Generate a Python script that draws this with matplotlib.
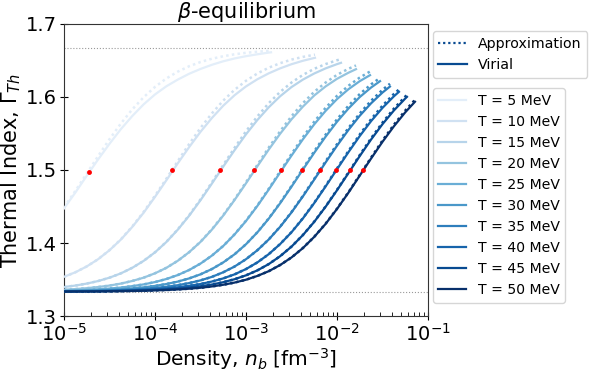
import matplotlib
matplotlib.use("Agg")
import matplotlib.pyplot as plt
import numpy as np
from matplotlib.lines import Line2D

# ---------------- data ----------------
temperatures = [5, 10, 15, 20, 25, 30, 35, 40, 45, 50]  # MeV

# shared density grid [fm^-3]
density_grid = [1.0e-5, 1.334e-5, 1.778e-5, 2.371e-5, 3.162e-5, 4.217e-5, 5.623e-5, 7.499e-5,
                1.0e-4, 1.334e-4, 1.778e-4, 2.371e-4, 3.162e-4, 4.217e-4, 5.623e-4, 7.499e-4,
                1.0e-3, 1.334e-3, 1.778e-3, 2.371e-3, 3.162e-3, 4.217e-3, 5.623e-3, 7.499e-3,
                1.0e-2, 1.334e-2, 1.778e-2, 2.371e-2, 3.162e-2, 4.217e-2, 5.623e-2]
# last density of each curve
density_end = [1.884e-3, 5.73e-3, 1.107e-2, 1.618e-2, 2.307e-2,
               2.972e-2, 3.819e-2, 4.797e-2, 5.875e-2, 7.194e-2]

gamma_approx = [
    [1.4489, 1.4715, 1.4952, 1.5191, 1.5422, 1.5637, 1.5830, 1.5997, 1.6138, 1.6254, 1.6347,
     1.6421, 1.6479, 1.6524, 1.6558, 1.6585, 1.6605, 1.6620, 1.6632, 1.6634],
    [1.3537, 1.3599, 1.3679, 1.3778, 1.3902, 1.4050, 1.4226, 1.4425, 1.4647, 1.4881, 1.5121,
     1.5355, 1.5576, 1.5775, 1.5951, 1.6099, 1.6222, 1.6322, 1.6401, 1.6463, 1.6512, 1.6549, 1.6580],
    [1.3397, 1.3417, 1.3444, 1.3479, 1.3525, 1.3584, 1.3660, 1.3755, 1.3873, 1.4016, 1.4186,
     1.4380, 1.4597, 1.4830, 1.5069, 1.5305, 1.5530, 1.5734, 1.5915, 1.6069, 1.6198, 1.6302,
     1.6386, 1.6451, 1.6503, 1.6518],
    [1.3360, 1.3369, 1.3381, 1.3397, 1.3417, 1.3444, 1.3480, 1.3525, 1.3585, 1.3660, 1.3756,
     1.3874, 1.4017, 1.4187, 1.4382, 1.4599, 1.4832, 1.5071, 1.5307, 1.5531, 1.5736, 1.5916,
     1.6071, 1.6198, 1.6303, 1.6386, 1.6432],
    [1.3347, 1.3352, 1.3358, 1.3366, 1.3376, 1.3390, 1.3409, 1.3433, 1.3465, 1.3507, 1.3561,
     1.3630, 1.3718, 1.3827, 1.3960, 1.4120, 1.4306, 1.4515, 1.4743, 1.4981, 1.5219, 1.5449,
     1.5662, 1.5852, 1.6016, 1.6153, 1.6266, 1.6349],
    [1.3341, 1.3344, 1.3348, 1.3352, 1.3359, 1.3367, 1.3378, 1.3393, 1.3412, 1.3438, 1.3471,
     1.3515, 1.3571, 1.3643, 1.3734, 1.3846, 1.3984, 1.4148, 1.4338, 1.4551, 1.4781, 1.5019,
     1.5257, 1.5484, 1.5694, 1.5879, 1.6040, 1.6173, 1.6261],
    [1.3338, 1.3340, 1.3342, 1.3345, 1.3349, 1.3355, 1.3362, 1.3371, 1.3384, 1.3400, 1.3422,
     1.3451, 1.3488, 1.3536, 1.3599, 1.3678, 1.3778, 1.3901, 1.4049, 1.4224, 1.4424, 1.4645,
     1.4879, 1.5119, 1.5353, 1.5574, 1.5774, 1.5949, 1.6098, 1.6181],
    [1.3337, 1.3338, 1.3339, 1.3341, 1.3344, 1.3348, 1.3352, 1.3359, 1.3367, 1.3378, 1.3393,
     1.3413, 1.3438, 1.3472, 1.3515, 1.3571, 1.3643, 1.3734, 1.3847, 1.3986, 1.4149, 1.4340,
     1.4552, 1.4783, 1.5021, 1.5259, 1.5486, 1.5696, 1.5881, 1.6041, 1.6103],
    [1.3336, 1.3336, 1.3338, 1.3339, 1.3341, 1.3343, 1.3347, 1.3351, 1.3357, 1.3365, 1.3375,
     1.3389, 1.3408, 1.3431, 1.3463, 1.3504, 1.3557, 1.3625, 1.3711, 1.3819, 1.3951, 1.4109,
     1.4293, 1.4501, 1.4728, 1.4965, 1.5204, 1.5435, 1.5649, 1.5840, 1.6006, 1.6029],
    [1.3335, 1.3336, 1.3336, 1.3337, 1.3339, 1.3341, 1.3343, 1.3346, 1.3351, 1.3356, 1.3364,
     1.3374, 1.3387, 1.3405, 1.3428, 1.3458, 1.3497, 1.3549, 1.3614, 1.3698, 1.3802, 1.3931,
     1.4085, 1.4265, 1.4470, 1.4694, 1.4931, 1.5170, 1.5403, 1.5619, 1.5814, 1.5961],
]

gamma_virial = [
    [1.4474, 1.4692, 1.4921, 1.5145, 1.5359, 1.5560, 1.5739, 1.5899, 1.6035, 1.6147, 1.6238,
     1.6318, 1.6384, 1.6441, 1.6489, 1.6528, 1.6559, 1.6585, 1.6608, 1.6612],
    [1.3537, 1.3599, 1.3679, 1.3778, 1.3901, 1.4047, 1.4220, 1.4415, 1.4632, 1.4860, 1.5091,
     1.5313, 1.5523, 1.5712, 1.5881, 1.6025, 1.6145, 1.6243, 1.6324, 1.6392, 1.6449, 1.6496, 1.6537],
    [1.3397, 1.3417, 1.3444, 1.3479, 1.3525, 1.3584, 1.3660, 1.3755, 1.3872, 1.4014, 1.4182,
     1.4373, 1.4586, 1.4814, 1.5047, 1.5273, 1.5489, 1.5685, 1.5859, 1.6010, 1.6136, 1.6238,
     1.6322, 1.6392, 1.6450, 1.6468],
    [1.3360, 1.3369, 1.3381, 1.3397, 1.3417, 1.3444, 1.3480, 1.3525, 1.3585, 1.3660, 1.3756,
     1.3874, 1.4015, 1.4183, 1.4376, 1.4590, 1.4818, 1.5052, 1.5280, 1.5496, 1.5694, 1.5868,
     1.6021, 1.6145, 1.6249, 1.6332, 1.6381],
    [1.3347, 1.3352, 1.3358, 1.3366, 1.3376, 1.3390, 1.3409, 1.3433, 1.3465, 1.3507, 1.3561,
     1.3630, 1.3718, 1.3827, 1.3959, 1.4118, 1.4301, 1.4508, 1.4732, 1.4966, 1.5197, 1.5420,
     1.5626, 1.5810, 1.5971, 1.6106, 1.6217, 1.6299],
    [1.3341, 1.3344, 1.3348, 1.3352, 1.3359, 1.3367, 1.3378, 1.3393, 1.3412, 1.3438, 1.3471,
     1.3515, 1.3571, 1.3643, 1.3734, 1.3846, 1.3983, 1.4146, 1.4333, 1.4544, 1.4771, 1.5005,
     1.5236, 1.5457, 1.5661, 1.5841, 1.5999, 1.6130, 1.6217],
    [1.3338, 1.3340, 1.3342, 1.3345, 1.3349, 1.3355, 1.3362, 1.3371, 1.3384, 1.3400, 1.3422,
     1.3451, 1.3488, 1.3536, 1.3599, 1.3678, 1.3778, 1.3901, 1.4048, 1.4221, 1.4419, 1.4638,
     1.4869, 1.5104, 1.5332, 1.5548, 1.5743, 1.5914, 1.6061, 1.6143],
    [1.3337, 1.3338, 1.3339, 1.3341, 1.3344, 1.3348, 1.3352, 1.3359, 1.3367, 1.3378, 1.3393,
     1.3413, 1.3438, 1.3472, 1.3515, 1.3571, 1.3643, 1.3734, 1.3847, 1.3985, 1.4147, 1.4336,
     1.4547, 1.4775, 1.5010, 1.5243, 1.5465, 1.5670, 1.5851, 1.6009, 1.6071],
    [1.3336, 1.3336, 1.3338, 1.3339, 1.3341, 1.3343, 1.3347, 1.3351, 1.3357, 1.3365, 1.3375,
     1.3389, 1.3408, 1.3431, 1.3463, 1.3504, 1.3557, 1.3625, 1.3711, 1.3819, 1.3950, 1.4108,
     1.4290, 1.4497, 1.4722, 1.4956, 1.5191, 1.5418, 1.5628, 1.5815, 1.5979, 1.6002],
    [1.3335, 1.3336, 1.3336, 1.3337, 1.3339, 1.3341, 1.3343, 1.3346, 1.3351, 1.3356, 1.3364,
     1.3374, 1.3387, 1.3405, 1.3428, 1.3458, 1.3497, 1.3549, 1.3614, 1.3698, 1.3802, 1.3930,
     1.4084, 1.4262, 1.4466, 1.4688, 1.4923, 1.5158, 1.5386, 1.5598, 1.5790, 1.5935],
]

# red markers (Gamma = 1.5 crossing)
dot_density = [1.9e-5, 1.54e-4, 5.2e-4, 1.22e-3, 2.43e-3, 4.1e-3, 6.5e-3, 9.7e-3, 1.39e-2, 1.93e-2]
dot_gamma = [1.497, 1.5, 1.5, 1.5, 1.5, 1.5, 1.5, 1.5, 1.5, 1.5]

# limits of the thermal index
gamma_limits = [4.0 / 3.0, 5.0 / 3.0]

# ---------------- plot ----------------
fig = plt.figure(figsize=(5.9, 3.73), dpi=100)
ax = fig.add_axes([0.1085, 0.1528, 0.6169, 0.7829])

colors = plt.cm.Blues(np.linspace(0.1, 1.0, len(temperatures)))

for g in gamma_limits:
    ax.axhline(g, color="#999999", lw=0.8, ls=":", zorder=1)

temp_handles = []
for i, T in enumerate(temperatures):
    n = len(gamma_approx[i]) - 1
    x = density_grid[:n] + [density_end[i]]
    ax.plot(x, gamma_approx[i], color=colors[i], lw=1.8, ls=(0, (1, 1.3)), zorder=2)
    nv = len(gamma_virial[i]) - 1
    xv = density_grid[:nv] + [density_end[i]]
    h, = ax.plot(xv, gamma_virial[i], color=colors[i], lw=1.6, ls="-", zorder=3)
    temp_handles.append(h)

ax.plot(dot_density, dot_gamma, "o", color="red", ms=3.5, zorder=5, mec="none")

ax.set_xscale("log")
ax.set_xlim(1e-5, 1e-1)
ax.set_ylim(1.3, 1.7)
ax.set_yticks([1.3, 1.4, 1.5, 1.6, 1.7])
ax.tick_params(axis="both", which="both", labelsize=14, top=False, right=False)
ax.tick_params(axis="both", which="major", direction="inout", length=6, pad=2)
ax.tick_params(axis="both", which="minor", direction="in", length=3)
for s in ax.spines.values():
    s.set_color("#333333")

ax.set_xlabel(r"Density, $n_b$ [fm$^{-3}$]", fontsize=14.5, labelpad=1)
ax.set_ylabel(r"Thermal Index, $\Gamma_{Th}$", fontsize=15, labelpad=2)
ax.set_title(r"$\beta$-equilibrium", fontsize=15, pad=3)

style_handles = [
    Line2D([], [], color=colors[-2], lw=1.6, ls=(0, (1, 1.3))),
    Line2D([], [], color=colors[-2], lw=1.6, ls="-"),
]
leg1 = ax.legend(style_handles, ["Approximation", "Virial"], loc="upper left",
                 bbox_to_anchor=(1.013, 0.975), borderaxespad=0, fontsize=10.2)
ax.add_artist(leg1)
ax.legend(temp_handles, [f"T = {T} MeV" for T in temperatures], loc="upper left",
          bbox_to_anchor=(1.013, 0.78), borderaxespad=0, fontsize=10.1)

fig.savefig("out.png", dpi=100)
